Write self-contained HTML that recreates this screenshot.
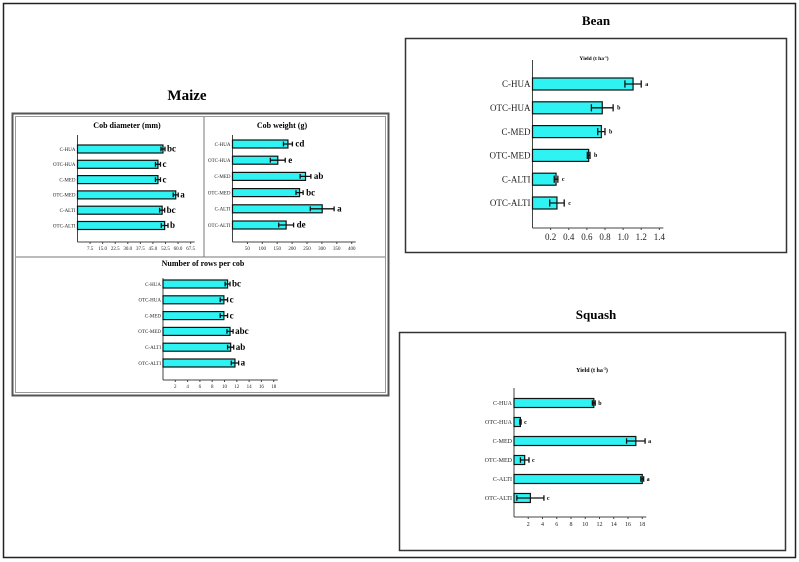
<!DOCTYPE html>
<html><head><meta charset="utf-8"><style>
html,body{margin:0;padding:0;background:#fff;}
svg{display:block;font-family:"Liberation Serif",serif;}
</style></head><body>
<svg id="fig" width="799" height="562" viewBox="0 0 799 562" xmlns="http://www.w3.org/2000/svg">
<rect x="3.5" y="3.5" width="792" height="554" fill="none" stroke="#222" stroke-width="1.5"/>
<text x="187" y="100" font-size="15" font-weight="bold" text-anchor="middle">Maize</text>
<rect x="12.5" y="113.5" width="376" height="282" fill="none" stroke="#555" stroke-width="2"/>
<rect x="15.5" y="116.5" width="370" height="276" fill="none" stroke="#999" stroke-width="1"/>
<line x1="204" y1="117" x2="204" y2="257" stroke="#777"/>
<line x1="16" y1="257" x2="385" y2="257" stroke="#777"/>
<text x="596" y="25" font-size="13" font-weight="bold" text-anchor="middle">Bean</text>
<rect x="405.5" y="38.5" width="381" height="214" fill="none" stroke="#333" stroke-width="1.5"/>
<text x="596" y="319" font-size="13" font-weight="bold" text-anchor="middle">Squash</text>
<rect x="399.5" y="332.5" width="386" height="218" fill="none" stroke="#333" stroke-width="1.5"/>
</svg>
<script>
const categories = ["C-HUA","OTC-HUA","C-MED","OTC-MED","C-ALTI","OTC-ALTI"];
const diamValues = [51, 48, 48, 58.6, 50.5, 52];
const diamErr = [1.2, 1.5, 1.5, 1.5, 1.5, 2];
const diamLetters = ["bc","c","c","a","bc","b"];
const diamTicks = [7.5,15,22.5,30,37.5,45,52.5,60,67.5];
const diamTickLabels = ["7.5","15.0","22.5","30.0","37.5","45.0","52.5","60.0","67.5"];
const weightValues = [186, 152, 245, 225, 301, 180];
const weightErr = [15, 25, 18, 12, 40, 25];
const weightLetters = ["cd","e","ab","bc","a","de"];
const weightTicks = [50,100,150,200,250,300,350,400];
const rowsValues = [10.5, 9.9, 9.9, 10.9, 11, 11.7];
const rowsErr = [0.4, 0.6, 0.6, 0.5, 0.5, 0.6];
const rowsLetters = ["bc","c","c","abc","ab","a"];
const rowsTicks = [2,4,6,8,10,12,14,16,18];
const beanValues = [1.11, 0.77, 0.76, 0.62, 0.26, 0.27];
const beanErr = [0.09, 0.12, 0.04, 0.015, 0.02, 0.08];
const beanLetters = ["a","b","b","b","c","c"];
const beanTicks = [0.2,0.4,0.6,0.8,1.0,1.2,1.4];
const beanTickLabels = ["0.2","0.4","0.6","0.8","1.0","1.2","1.4"];
const squashValues = [11.2, 0.9, 17.1, 1.5, 18, 2.3];
const squashErr = [0.2, 0.1, 1.3, 0.6, 0.2, 1.9];
const squashLetters = ["b","c","a","c","a","c"];
const squashTicks = [2,4,6,8,10,12,14,16,18];

const svg = document.getElementById('fig');
const NS = 'http://www.w3.org/2000/svg';
function mk(tag, attrs, txt){
  const e = document.createElementNS(NS, tag);
  for (const k in attrs) e.setAttribute(k, attrs[k]);
  if (txt !== undefined) e.textContent = txt;
  svg.appendChild(e);
  return e;
}
function chart(cfg){
  const sx = v => cfg.x0 + v * cfg.k;
  const sy = i => cfg.rowTop + i * cfg.rowStep;
  const ax = mk('line',{x1:cfg.x0,y1:cfg.axTop,x2:cfg.x0,y2:cfg.axBot,stroke:'#444','stroke-width':1});
  
  
  const xa = mk('line',{x1:cfg.x0,y1:cfg.axBot,x2:sx(cfg.ticks[cfg.ticks.length-1])+4,y2:cfg.axBot,stroke:'#444','stroke-width':1});
  
  
  cfg.ticks.forEach((t,j)=>{
    const tk = mk('line',{x1:sx(t),y1:cfg.axBot,x2:sx(t),y2:cfg.axBot+2,stroke:'#444'});
    
    
    const tl = mk('text',{x:sx(t),y:cfg.axBot+cfg.tickFs+3,'font-size':cfg.tickFs,'text-anchor':'middle',fill:'#222'}, cfg.tickLabels ? cfg.tickLabels[j] : String(t));
    
    
  });
  if (cfg.title){
    const tt = mk('text',{x:cfg.titleX,y:cfg.titleY,'font-size':cfg.titleFs,'font-weight':'bold','text-anchor':'middle'}, cfg.title);
    
    
    if (cfg.sup){ const s = document.createElementNS(NS,'tspan'); s.setAttribute('baseline-shift','super'); s.setAttribute('font-size', cfg.titleFs*0.6); s.textContent='-1'; tt.appendChild(s); const r=document.createElementNS(NS,'tspan'); r.textContent=')'; tt.appendChild(r); }
  }
  categories.forEach((c,i)=>{
    const y = sy(i), v = cfg.values[i], e = cfg.err[i];
    const lb = mk('text',{x:cfg.x0-2,y:y+cfg.labFs*0.35,'font-size':cfg.labFs,'text-anchor':'end',fill:'#222'}, c);
    
    
    const b = mk('rect',{x:cfg.x0,y:y-cfg.bh/2,width:sx(v)-cfg.x0,height:cfg.bh,fill:'#2ff3f3',stroke:'#111','stroke-width':1.2});
    
    
    const eb = mk('path',{d:`M${sx(v-e)},${y}H${sx(v+e)}M${sx(v-e)},${y-cfg.bh*0.3}V${y+cfg.bh*0.3}M${sx(v+e)},${y-cfg.bh*0.3}V${y+cfg.bh*0.3}`,stroke:'#111','stroke-width':1.3,fill:'none'});
    
    
    const lt = mk('text',{x:sx(v+e)+cfg.letGap,y:y+cfg.letFs*0.3,'font-size':cfg.letFs,'font-weight':'bold'}, cfg.letters[i]);
    
    
  });
}
chart({id:'cob-diameter',x0:77.5,k:12.57/7.5,values:diamValues,err:diamErr,letters:diamLetters,ticks:diamTicks,tickLabels:diamTickLabels,
  rowTop:149,rowStep:15.3,bh:8,axTop:135,axBot:242,tickFs:5,labFs:5,letFs:9,letGap:2,
  title:'Cob diameter (mm)',titleX:127,titleY:128,titleFs:8});
chart({id:'cob-weight',x0:232.5,k:0.298,values:weightValues,err:weightErr,letters:weightLetters,ticks:weightTicks,
  rowTop:144,rowStep:16.2,bh:8,axTop:135,axBot:242,tickFs:5,labFs:5,letFs:9,letGap:3,
  title:'Cob weight (g)',titleX:282,titleY:128,titleFs:8});
chart({id:'rows-per-cob',x0:163,k:6.15,values:rowsValues,err:rowsErr,letters:rowsLetters,ticks:rowsTicks,
  rowTop:284,rowStep:15.8,bh:8,axTop:278,axBot:380,tickFs:5,labFs:5,letFs:9,letGap:2,
  title:'Number of rows per cob',titleX:203,titleY:266,titleFs:8});
chart({id:'bean-yield',x0:532.5,k:90.6,values:beanValues,err:beanErr,letters:beanLetters,ticks:beanTicks,tickLabels:beanTickLabels,
  rowTop:84,rowStep:23.8,bh:12,axTop:60,axBot:228,tickFs:9,labFs:9,letFs:6,letGap:4,
  title:'Yield (t ha',sup:true,titleX:594,titleY:60,titleFs:5.5});
chart({id:'squash-yield',x0:514,k:7.125,values:squashValues,err:squashErr,letters:squashLetters,ticks:squashTicks,
  rowTop:403,rowStep:19,bh:9,axTop:388,axBot:517,tickFs:6,labFs:6,letFs:6,letGap:3,
  title:'Yield (t ha',sup:true,titleX:592,titleY:372,titleFs:6});
</script>
</body></html>
